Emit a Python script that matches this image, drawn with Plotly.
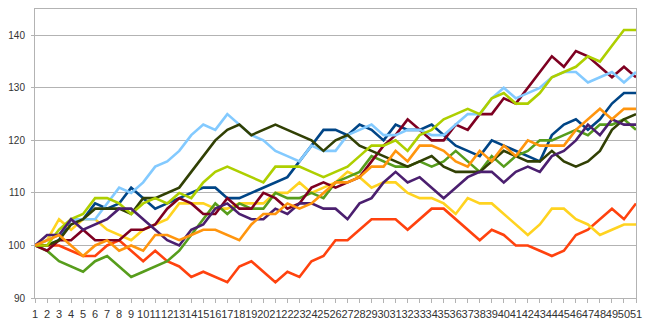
import plotly.graph_objects as go

x = list(range(1, 52))

dark_blue = [100, 100, 101, 105, 105, 108, 107, 108, 111, 109, 107, 108, 109, 110, 111, 111, 109, 109, 110, 111,
             112, 113, 116, 119, 122, 122, 121, 123, 122, 120, 123, 122, 122, 123, 121, 119, 118, 117, 120, 119,
             118, 117, 116, 121, 123, 124, 122, 124, 127, 129, 129]
red = [100, 100, 100, 99, 98, 98, 100, 101, 99, 97, 99, 97, 96, 94, 95, 94, 93, 96, 97, 95,
       93, 95, 94, 97, 98, 101, 101, 103, 105, 105, 105, 103, 105, 107, 107, 105, 103, 101, 103, 102,
       100, 100, 99, 98, 99, 102, 103, 105, 107, 105, 108]
yellow = [100, 101, 105, 103, 105, 105, 103, 102, 101, 103, 104, 105, 108, 108, 108, 107, 107, 108, 108, 108,
          110, 110, 112, 110, 111, 112, 114, 113, 111, 112, 112, 110, 109, 109, 108, 106, 109, 108, 108, 106,
          104, 102, 104, 107, 107, 105, 104, 102, 103, 104, 104]
green = [100, 99, 97, 96, 95, 97, 98, 96, 94, 95, 96, 97, 99, 102, 105, 108, 106, 108, 107, 107,
         110, 109, 109, 110, 109, 112, 113, 114, 117, 116, 115, 115, 116, 115, 116, 118, 116, 114, 117, 115,
         117, 118, 120, 120, 121, 122, 121, 123, 123, 124, 122]
maroon = [100, 99, 101, 101, 103, 101, 101, 101, 103, 103, 104, 107, 109, 108, 106, 106, 109, 107, 107, 110,
          109, 107, 108, 111, 112, 111, 112, 113, 116, 119, 121, 124, 122, 120, 120, 123, 122, 125, 125, 128,
          127, 130, 133, 136, 134, 137, 136, 134, 132, 134, 132]
light_blue = [100, 101, 102, 105, 105, 105, 108, 111, 110, 112, 115, 116, 118, 121, 123, 122, 125, 123, 121, 120,
              118, 117, 116, 119, 118, 118, 121, 122, 123, 121, 121, 122, 122, 121, 121, 123, 125, 125, 128, 130,
              128, 129, 130, 132, 133, 133, 131, 132, 133, 131, 133]
olive = [100, 100, 101, 104, 105, 107, 107, 107, 106, 109, 109, 110, 111, 114, 117, 120, 122, 123, 121, 122,
         123, 122, 121, 120, 118, 120, 121, 119, 118, 117, 116, 115, 116, 117, 115, 114, 114, 114, 116, 118,
         117, 116, 116, 118, 116, 115, 116, 118, 122, 124, 125]
lime = [100, 100, 103, 105, 106, 109, 109, 108, 106, 108, 109, 108, 110, 109, 112, 114, 115, 114, 113, 112,
        115, 115, 115, 114, 113, 114, 115, 117, 119, 119, 120, 118, 121, 122, 124, 125, 126, 125, 128, 129,
        127, 127, 129, 132, 133, 134, 136, 135, 138, 141, 141]
purple = [100, 102, 102, 105, 103, 104, 105, 107, 107, 105, 103, 101, 100, 103, 104, 107, 108, 106, 105, 105,
          107, 106, 108, 108, 107, 107, 105, 108, 109, 112, 114, 112, 113, 111, 109, 111, 113, 114, 114, 112,
          114, 115, 114, 117, 118, 120, 123, 121, 124, 123, 123]
orange = [100, 101, 102, 100, 98, 100, 101, 99, 100, 99, 102, 102, 101, 102, 103, 103, 102, 101, 104, 106,
          106, 108, 107, 108, 110, 112, 112, 113, 115, 115, 118, 116, 119, 119, 118, 116, 115, 118, 116, 119,
          117, 120, 119, 119, 119, 122, 124, 126, 124, 126, 126]

series = [
    (dark_blue, "#004586"),
    (red, "#ff420e"),
    (yellow, "#ffd320"),
    (green, "#579d1c"),
    (maroon, "#7e0021"),
    (light_blue, "#83caff"),
    (olive, "#314004"),
    (lime, "#aecf00"),
    (purple, "#4b1f6f"),
    (orange, "#ff950e"),
]

fig = go.Figure()
for vals, col in series:
    fig.add_trace(go.Scatter(x=x, y=vals, mode="lines",
                             line=dict(color=col, width=2.6), showlegend=False,
                             hoverinfo="skip"))

axis_col = "#b3b3b3"
fig.update_layout(
    width=650, height=328,
    margin=dict(l=25, r=14, t=8, b=24),
    paper_bgcolor="white", plot_bgcolor="white",
    font=dict(family="Liberation Sans, Arial, sans-serif", size=11, color="#333333"),
)
fig.update_xaxes(
    range=[1, 51], tickmode="linear", tick0=1, dtick=1, tickangle=0,
    showgrid=False, zeroline=False,
    showline=True, linecolor=axis_col, linewidth=1, mirror=True,
    ticks="outside", ticklen=4, tickcolor=axis_col,
    tickfont=dict(size=11), ticklabelstandoff=2,
)
fig.update_yaxes(
    range=[90, 145], tickmode="array", tickvals=[90, 100, 110, 120, 130, 140],
    showgrid=True, gridcolor=axis_col, gridwidth=1, zeroline=False,
    showline=True, linecolor=axis_col, linewidth=1, mirror=True,
    ticks="outside", ticklen=3, tickcolor=axis_col,
    tickfont=dict(size=10), ticklabelstandoff=4,
)

fig.write_html("out.html")
